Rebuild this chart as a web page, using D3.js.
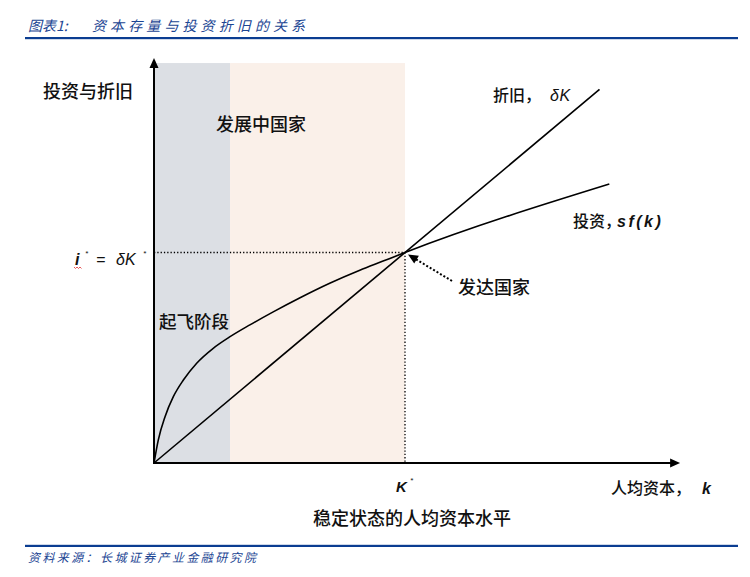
<!DOCTYPE html>
<html><head><meta charset="utf-8">
<script src="https://cdn.jsdelivr.net/npm/d3@7"></script>
<style>body{margin:0;background:#fff}svg{display:block}</style>
</head><body><svg id="c" width="750" height="577"></svg>
<script>
// ---- data ----
const capitalK   = [0, 0.017, 0.044, 0.077, 0.117, 0.170, 0.236, 0.303, 0.382, 0.475, 0.58, 0.70, 0.82, 0.91, 1, 1.814];
const investment = [0, 0.109, 0.220, 0.315, 0.394, 0.474, 0.545, 0.600, 0.656, 0.718, 0.784, 0.854, 0.916, 0.958, 1, 1.325];
const deprK = [0, 1.775];
const depreciation = [0, 1.775];
const stageNames = ["起飞阶段", "发展中国家"];
const stageBounds = [[0, 0.303], [0.303, 1]];
const steadyK = 1, steadyI = 1;
const bandTop = 1.90, xAxisEnd = 2.096, yAxisEnd = 1.924;

const titleText = ["图表1:", "资本存量与投资折旧的关系"];
const sourceText = "资料来源：长城证券产业金融研究院";
const yAxisTitle = "投资与折旧";
const xAxisTitle = "人均资本，";
const xSubTitle = "稳定状态的人均资本水平";

// ---- drawing ----
const svg = d3.select("#c");
const x = d3.scaleLinear().domain([0, 1]).range([154, 405]);
const y = d3.scaleLinear().domain([0, 1]).range([463, 252.5]);
const CJK = "'Noto Sans CJK SC','Noto Sans',sans-serif";
const LAT = "'Liberation Sans',Arial,sans-serif";
const blue = "#1b4593";

// title & rules
svg.append("text").attr("x", 28).attr("y", 31).attr("fill", blue)
  .attr("font-family", CJK).attr("font-size", 14).attr("font-style", "italic").text(titleText[0]);
svg.append("text").attr("x", 92).attr("y", 31).attr("fill", blue)
  .attr("font-family", CJK).attr("font-size", 14).attr("font-style", "italic")
  .attr("letter-spacing", 4.1).text(titleText[1]);
svg.append("rect").attr("x", 25).attr("y", 37).attr("width", 713).attr("height", 2.2).attr("fill", "#0b3d91");
svg.append("rect").attr("x", 25).attr("y", 544.8).attr("width", 713).attr("height", 2.2).attr("fill", "#0b3d91");
svg.append("text").attr("x", 28).attr("y", 562).attr("fill", blue)
  .attr("font-family", CJK).attr("font-size", 12).attr("font-style", "italic")
  .attr("letter-spacing", 2.4).text(sourceText);

// bands
const bandColors = ["#dcdfe4", "#faf0e9"];
svg.selectAll("rect.band").data(stageBounds).join("rect").attr("class", "band")
  .attr("x", d => x(d[0])).attr("width", d => x(d[1]) - x(d[0]))
  .attr("y", y(bandTop)).attr("height", y(0) - y(bandTop))
  .attr("fill", (d, i) => bandColors[i]);

// dotted guides
svg.append("line").attr("x1", x(0)).attr("x2", x(steadyK)).attr("y1", y(steadyI)).attr("y2", y(steadyI))
  .attr("stroke", "#000").attr("stroke-width", 1.3).attr("stroke-dasharray", "1.3 2");
svg.append("line").attr("x1", x(steadyK)).attr("x2", x(steadyK)).attr("y1", y(steadyI)).attr("y2", y(0))
  .attr("stroke", "#000").attr("stroke-width", 1.3).attr("stroke-dasharray", "1.3 2");

// curves
const line = d3.line().x(d => x(d[0])).y(d => y(d[1]));
svg.append("path").datum(deprK.map((k, i) => [k, depreciation[i]]))
  .attr("d", line).attr("fill", "none").attr("stroke", "#000").attr("stroke-width", 1.6);
svg.append("path").datum(capitalK.map((k, i) => [k, investment[i]]))
  .attr("d", line.curve(d3.curveMonotoneX)).attr("fill", "none").attr("stroke", "#000").attr("stroke-width", 1.6);

// axes
svg.append("line").attr("x1", x(0)).attr("x2", x(xAxisEnd) - 8).attr("y1", y(0)).attr("y2", y(0))
  .attr("stroke", "#000").attr("stroke-width", 2);
svg.append("line").attr("x1", x(0)).attr("x2", x(0)).attr("y1", y(0) + 1).attr("y2", y(yAxisEnd) + 8)
  .attr("stroke", "#000").attr("stroke-width", 2);
svg.append("path").attr("d", `M${x(xAxisEnd)},${y(0)} l-10,-4.5 l0,9 z`).attr("fill", "#000");
svg.append("path").attr("d", `M${x(0)},${y(yAxisEnd)} l-4.5,10 l9,0 z`).attr("fill", "#000");

// dotted arrow to steady state
const ax0 = 452, ay0 = 281, ax1 = x(steadyK) + 3, ay1 = y(steadyI) + 2;
const ang = Math.atan2(ay1 - ay0, ax1 - ax0);
svg.append("line").attr("x1", ax0).attr("y1", ay0)
  .attr("x2", ax1 - 8 * Math.cos(ang)).attr("y2", ay1 - 8 * Math.sin(ang))
  .attr("stroke", "#000").attr("stroke-width", 2).attr("stroke-dasharray", "2 2");
svg.append("path").attr("transform", `translate(${ax1},${ay1}) rotate(${ang * 180 / Math.PI})`)
  .attr("d", "M0,0 L-10,-4.5 L-10,4.5 Z").attr("fill", "#000");

// labels
function cjk(t, px, py, fs, ls) {
  return svg.append("text").attr("x", px).attr("y", py).attr("font-family", CJK)
    .attr("font-size", fs).attr("font-weight", 500).attr("letter-spacing", ls || 0).attr("fill", "#111").text(t);
}
function lat(t, px, py, fs, ls) {
  return svg.append("text").attr("x", px).attr("y", py).attr("font-family", LAT)
    .attr("font-size", fs).attr("font-style", "italic").attr("letter-spacing", ls || 0)
    .attr("fill", "#111").text(t);
}
cjk(yAxisTitle, 43, 98, 18);
cjk(stageNames[1], 216, 131, 18);
cjk(stageNames[0], 159, 328, 17.5);
cjk("发达国家", 458, 294, 18);
cjk("折旧，", 493, 101, 16);
lat("δK", 550, 101, 16, 0.5);
cjk("投资，", 573, 227, 16);
lat("sf(k)", 617, 227, 16, 2.5).attr("font-weight", "bold");
cjk(xAxisTitle, 611, 494, 16);
lat("k", 702, 494, 16).attr("font-weight", "bold");
cjk(xSubTitle, 313, 525, 18);
lat("K", 396, 492, 15).attr("font-weight", "bold");
lat("*", 410, 483, 8);

// i* = δK*
lat("i", 75, 265, 16).attr("font-weight", "bold");
lat("*", 85, 256, 8);
lat("=", 96, 265, 16);
lat("δK", 116, 265, 16);
lat("*", 143, 256, 8);
svg.append("path").attr("d", "M74,267 l1.5,1.5 l1.5,-1.5 l1.5,1.5 l1.5,-1.5 l1.5,1.5")
  .attr("fill", "none").attr("stroke", "#e03030").attr("stroke-width", 0.8);
</script></body></html>
